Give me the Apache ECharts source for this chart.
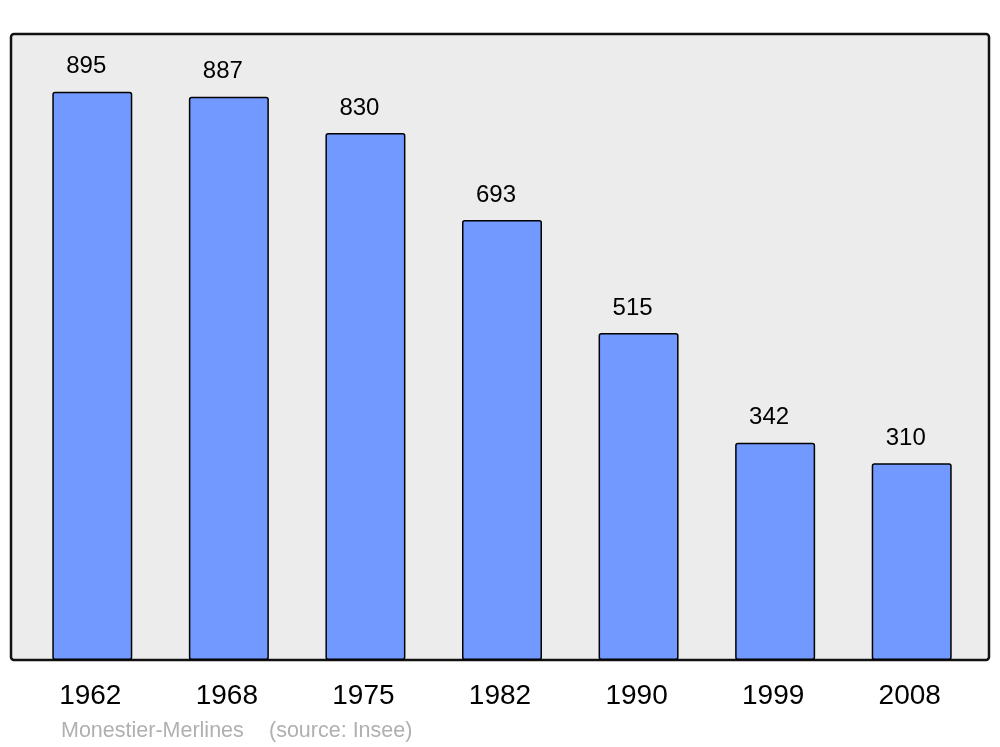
<!DOCTYPE html>
<html>
<head>
<meta charset="utf-8">
<script src="https://cdn.jsdelivr.net/npm/echarts@6/dist/echarts.min.js"></script>
<style>
html,body{margin:0;padding:0;background:#fff;}
#chart{width:1000px;height:747px;}
</style>
</head>
<body>
<div id="chart"></div>
<script>
const years = ['1962','1968','1975','1982','1990','1999','2008'];
const population = [895, 887, 830, 693, 515, 342, 310];
const placeName = 'Monestier-Merlines';
const sourceText = '(source: Insee)';

const chart = echarts.init(document.getElementById('chart'));
const font = '"Liberation Sans", Arial, sans-serif';
chart.setOption({
  animation: false,
  grid: {left: 24, right: 20, top: 34, bottom: 87},
  graphic: [
    {type: 'rect', z: -10, shape: {x: 11, y: 34, width: 978, height: 626, r: 3},
     style: {fill: '#ececec', stroke: '#111', lineWidth: 2.5}},
    {type: 'text', left: 61, top: 720, style: {text: placeName, fill: '#b0b0b0', font: '21.5px ' + font}},
    {type: 'text', left: 269, top: 720, style: {text: sourceText, fill: '#b0b0b0', font: '21.5px ' + font}}
  ],
  xAxis: {
    type: 'category', data: years,
    axisLine: {show: false}, axisTick: {show: false},
    axisLabel: {fontSize: 28, color: '#000', fontFamily: font, margin: 22,
      formatter: v => v, padding: [0, 4, 0, 0]}
  },
  yAxis: {
    type: 'value', min: 0, max: 986,
    show: false, splitLine: {show: false}
  },
  series: [{
    type: 'bar', data: population, barWidth: 80,
    itemStyle: {color: '#7299ff', borderColor: '#000', borderWidth: 1.5, borderRadius: 2},
    label: {show: true, position: 'top', distance: 13, offset: [-6, 0], fontSize: 24, color: '#000', fontFamily: font}
  }]
});
</script>
</body>
</html>
